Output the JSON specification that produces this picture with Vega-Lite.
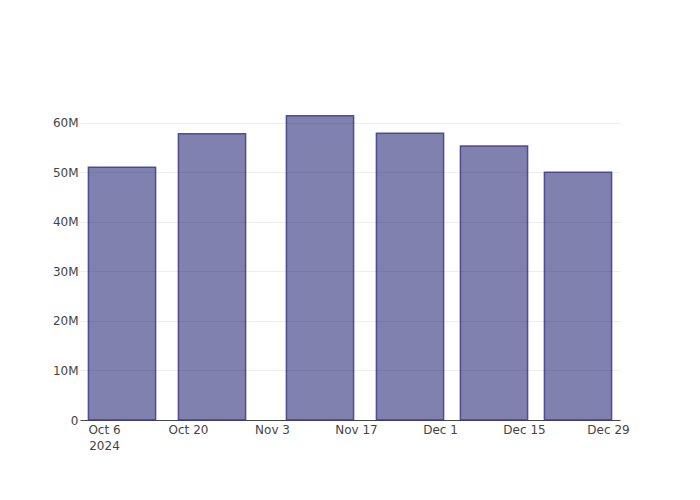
{
  "$schema": "https://vega.github.io/schema/vega-lite/v6.json",
  "width": 540,
  "height": 320,
  "autosize": {"type": "none"},
  "padding": {"left": 80, "top": 100, "right": 80, "bottom": 80},
  "background": "white",
  "config": {
    "view": {"stroke": null},
    "font": "DejaVu Sans"
  },
  "data": {
    "values": [
      {"date": "2024-10-09", "value": 51.0},
      {"date": "2024-10-24", "value": 57.8},
      {"date": "2024-11-11", "value": 61.4},
      {"date": "2024-11-26", "value": 57.9},
      {"date": "2024-12-10", "value": 55.3},
      {"date": "2024-12-24", "value": 50.0}
    ]
  },
  "mark": {
    "type": "bar",
    "width": 67.2,
    "fill": "#191970",
    "fillOpacity": 0.55,
    "stroke": "#3a3a86",
    "strokeOpacity": 0.85,
    "strokeWidth": 1.5
  },
  "encoding": {
    "x": {
      "field": "date",
      "type": "temporal",
      "scale": {
        "type": "utc",
        "padding": 0,
        "nice": false,
        "domain": [
          {"year": 2024, "month": 10, "date": 2, "utc": true},
          {"year": 2024, "month": 12, "date": 31, "utc": true}
        ]
      },
      "axis": {
        "title": null,
        "grid": false,
        "ticks": false,
        "tickSize": 0,
        "domainColor": "#444",
        "domainWidth": 1,
        "labelFont": "DejaVu Sans",
        "labelFontSize": 12,
        "labelColor": "#444",
        "labelPadding": 4,
        "labelLineHeight": 16,
        "labelFlush": false,
        "labelOverlap": false,
        "labelAlign": "center",
        "labelBaseline": "top",
        "values": [
          {"year": 2024, "month": 10, "date": 6, "utc": true},
          {"year": 2024, "month": 10, "date": 20, "utc": true},
          {"year": 2024, "month": 11, "date": 3, "utc": true},
          {"year": 2024, "month": 11, "date": 17, "utc": true},
          {"year": 2024, "month": 12, "date": 1, "utc": true},
          {"year": 2024, "month": 12, "date": 15, "utc": true},
          {"year": 2024, "month": 12, "date": 29, "utc": true}
        ],
        "labelExpr": "(utcmonth(datum.value) == 9 && utcdate(datum.value) == 6) ? [utcFormat(datum.value, '%b %-d'), '2024'] : utcFormat(datum.value, '%b %-d')"
      }
    },
    "y": {
      "field": "value",
      "type": "quantitative",
      "scale": {"domain": [0, 64.6], "nice": false},
      "axis": {
        "title": null,
        "values": [0, 10, 20, 30, 40, 50, 60],
        "labelExpr": "datum.value == 0 ? '0' : datum.value + 'M'",
        "domain": false,
        "ticks": false,
        "tickSize": 0,
        "labelPadding": 2,
        "labelFont": "DejaVu Sans",
        "labelFontSize": 12,
        "labelColor": "#444",
        "gridColor": "#eeeeee",
        "gridWidth": 1
      }
    }
  }
}
